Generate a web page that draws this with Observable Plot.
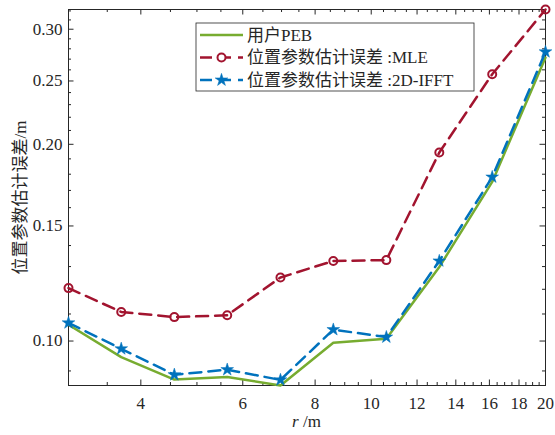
<!DOCTYPE html>
<html><head><meta charset="utf-8">
<script src="https://cdn.jsdelivr.net/npm/d3@7"></script>
<script src="https://cdn.jsdelivr.net/npm/@observablehq/plot@0.6"></script>
<style>body{margin:0;background:#fff}</style>
</head><body><div id="chart"></div>
<script>
const rValues = [3, 3.70, 4.57, 5.64, 6.97, 8.60, 10.62, 13.11, 16.18, 20];
const pebValues = [0.1059, 0.0945, 0.0873, 0.0881, 0.0855, 0.0994, 0.1008, 0.1298, 0.1752, 0.2715];
const mleValues = [0.1205, 0.1108, 0.1088, 0.1095, 0.1251, 0.1326, 0.1330, 0.1943, 0.2560, 0.3216];
const ifftValues = [0.1066, 0.0973, 0.0888, 0.0904, 0.0872, 0.1041, 0.1014, 0.1326, 0.1782, 0.2770];
const seriesNames = ["用户PEB", "位置参数估计误差 :MLE", "位置参数估计误差 :2D-IFFT"];
const seriesColors = ["#77AC30", "#A2142F", "#0072BD"];
const xTicks = [4, 6, 8, 10, 12, 14, 16, 18, 20];
const xMinor = [3.5, 4.5, 5, 5.5, 6.5, 7, 7.5, 8.5, 9, 9.5, 10.5, 11, 11.5, 12.5, 13, 13.5, 14.5, 15, 15.5, 16.5, 17, 17.5, 18.5, 19, 19.5];
const yTicks = [0.10, 0.15, 0.20, 0.25, 0.30];
const yMinor = [0.09, 0.11, 0.12, 0.13, 0.14, 0.16, 0.17, 0.18, 0.19, 0.21, 0.22, 0.23, 0.24, 0.26, 0.27, 0.28, 0.29, 0.31, 0.32];
const xLabel = ["r", " /m"];
const yLabel = "位置参数估计误差/m";

const W = 555, H = 435;
const mL = 68, mR = 10, mT = 9, mB = 50;
const fw = W - mL - mR, fh = H - mT - mB;
const ink = "#262626";
const font = "'Liberation Serif', 'Times New Roman', 'Noto Sans CJK SC', serif";

const table = rValues.map((r, i) => ({r, peb: pebValues[i], mle: mleValues[i], ifft: ifftValues[i]}));
const yDomain = d3.extent([...pebValues, ...mleValues, ...ifftValues]);

const majLen = 5.5, minLen = 3;
const plot = Plot.plot({
  width: W, height: H,
  marginLeft: mL, marginRight: mR, marginTop: mT, marginBottom: mB,
  style: {fontSize: "17px", color: ink, background: "#fff"},
  x: {type: "log", domain: [rValues[0], rValues[rValues.length - 1]]},
  y: {type: "log", domain: yDomain},
  marks: [
    Plot.frame({stroke: ink, strokeWidth: 1}),
    Plot.tickX(xTicks, {x: d => d, insetTop: fh - majLen, stroke: ink}),
    Plot.tickX(xTicks, {x: d => d, insetBottom: fh - majLen, stroke: ink}),
    Plot.tickX(xMinor, {x: d => d, insetTop: fh - minLen, stroke: ink}),
    Plot.tickX(xMinor, {x: d => d, insetBottom: fh - minLen, stroke: ink}),
    Plot.tickY(yTicks, {y: d => d, insetRight: fw - majLen, stroke: ink}),
    Plot.tickY(yTicks, {y: d => d, insetLeft: fw - majLen, stroke: ink}),
    Plot.tickY(yMinor, {y: d => d, insetRight: fw - minLen, stroke: ink}),
    Plot.tickY(yMinor, {y: d => d, insetLeft: fw - minLen, stroke: ink}),
    Plot.axisX({ticks: xTicks, tickSize: 0, tickPadding: 11, tickFormat: d => String(d), label: null, fill: ink}),
    Plot.axisY({ticks: yTicks, tickSize: 0, tickPadding: 6, tickFormat: d3.format(".2f"), label: yLabel, labelAnchor: "center", labelArrow: "none", labelOffset: 55, fill: ink}),
    Plot.line(table, {x: "r", y: "peb", stroke: seriesColors[0], strokeWidth: 2.5}),
    Plot.line(table, {x: "r", y: "mle", stroke: seriesColors[1], strokeWidth: 2.5, strokeDasharray: "12,7"}),
    Plot.dot(table, {x: "r", y: "mle", r: 4, stroke: seriesColors[1], strokeWidth: 2, fill: "none"}),
    Plot.line(table, {x: "r", y: "ifft", stroke: seriesColors[2], strokeWidth: 2.5, strokeDasharray: "12,7"}),
    Plot.dot(table, {x: "r", y: "ifft", r: 4, symbol: "star", fill: seriesColors[2], stroke: seriesColors[2], strokeWidth: 0.5})
  ]
});
document.getElementById("chart").appendChild(plot);

const svg = d3.select(plot);
// x label with italic r
const xl = svg.append("text")
  .attr("x", mL + fw / 2).attr("y", H - 8)
  .attr("text-anchor", "middle").attr("fill", ink);
xl.append("tspan").attr("font-style", "italic").text(xLabel[0]);
xl.append("tspan").text(xLabel[1]);

// legend
const lg = svg.append("g");
const lx = 196, ly = 23, lw = 278, lh = 68;
lg.append("rect").attr("x", lx).attr("y", ly).attr("width", lw).attr("height", lh)
  .attr("fill", "#fff").attr("stroke", ink).attr("stroke-width", 0.8);
const rowY = [35, 57.5, 80];
seriesNames.forEach((name, i) => {
  const y = rowY[i];
  lg.append("line").attr("x1", 200).attr("x2", 243).attr("y1", y).attr("y2", y)
    .attr("stroke", seriesColors[i]).attr("stroke-width", 2.5)
    .attr("stroke-dasharray", i === 0 ? null : "12,7");
  if (i === 1) {
    lg.append("circle").attr("cx", 221.5).attr("cy", y).attr("r", 4)
      .attr("fill", "#fff").attr("stroke", seriesColors[i]).attr("stroke-width", 2);
  } else if (i === 2) {
    lg.append("path").attr("transform", `translate(221.5,${y})`)
      .attr("d", d3.symbol(d3.symbolStar, Math.PI * 16)())
      .attr("fill", seriesColors[i]).attr("stroke", seriesColors[i]).attr("stroke-width", 0.5);
  }
  lg.append("text").attr("x", 247).attr("y", y).attr("dy", "0.35em")
    .attr("text-anchor", "start").attr("fill", ink).text(name);
});
svg.selectAll("text").style("font-family", font).style("font-size", "17px");
</script>
</body></html>
